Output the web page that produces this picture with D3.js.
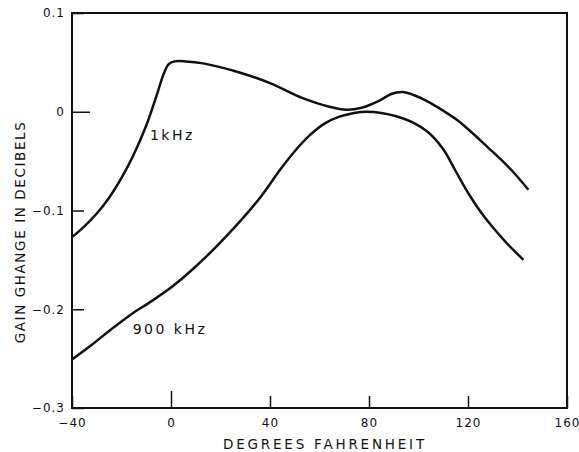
<!DOCTYPE html>
<html lang="en">
<head>
<meta charset="UTF-8">
<title>Gain change vs temperature</title>
<script src="https://d3js.org/d3.v7.min.js"></script>
<style>
  body { margin: 0; background: #fff; }
  text { font-family: "DejaVu Sans", sans-serif; fill: #111; }
</style>
</head>
<body>
<svg id="chart" width="579" height="452"></svg>
<script>
// data
const tempTicks = [-40, 0, 40, 80, 120, 160];
const gainTicks = [0.1, 0, -0.1, -0.2, -0.3];
const gainTickLabels = ["0.1", "0", "\u22120.1", "\u22120.2", "\u22120.3"];
const tempTickLabels = ["\u221240", "0", "40", "80", "120", "160"];

const temp1k = [-40, -35, -30, -25, -20, -15, -10, -6, -3, -1, 1.5, 6, 13, 26, 40, 53, 64, 71, 77, 84, 89, 93.5, 98, 104, 110, 116, 122, 128, 134, 139, 144.4];
const gain1k = [-0.127, -0.116, -0.103, -0.087, -0.067, -0.043, -0.014, 0.015, 0.038, 0.048, 0.051, 0.051, 0.049, 0.041, 0.029, 0.014, 0.005, 0.002, 0.004, 0.011, 0.018, 0.020, 0.017, 0.010, 0.001, -0.009, -0.022, -0.036, -0.050, -0.063, -0.079];

const temp900k = [-40, -32, -24, -16, -8, 0, 9, 22, 36, 44, 50, 56, 62, 68, 74, 79, 85, 91, 97, 104, 110, 115, 120, 125, 130, 136, 142.4];
const gain900k = [-0.251, -0.236, -0.220, -0.205, -0.192, -0.178, -0.159, -0.127, -0.087, -0.059, -0.040, -0.024, -0.012, -0.005, -0.0012, 0.000, -0.0012, -0.0045, -0.010, -0.021, -0.038, -0.060, -0.082, -0.101, -0.117, -0.134, -0.150];

const svg = d3.select("#chart");
const margin = {top: 13, right: 12, bottom: 44, left: 72};
const width = 579 - margin.left - margin.right;
const height = 452 - margin.top - margin.bottom;

const g = svg.append("g").attr("transform", `translate(${margin.left},${margin.top})`);

const x = d3.scaleLinear().domain([-40, 160]).range([0, width]);
const y = d3.scaleLinear().domain([-0.3, 0.1]).range([height, 0]);

// axes, ticks pointing inward
const yAxis = d3.axisLeft(y)
  .tickValues(gainTicks)
  .tickSize(-12)
  .tickPadding(7)
  .tickFormat((d, i) => gainTickLabels[i]);

const xAxis = d3.axisBottom(x)
  .tickValues(tempTicks)
  .tickSize(-12)
  .tickPadding(10)
  .tickFormat((d, i) => tempTickLabels[i]);

const gy = g.append("g").call(yAxis);
const gx = g.append("g").attr("transform", `translate(0,${height})`).call(xAxis);

[gx, gy].forEach(a => {
  a.select(".domain").remove();
  a.selectAll(".tick line").attr("stroke", "#111").attr("stroke-width", 1.5);
  a.selectAll(".tick text")
    .style("font-size", "12px")
    .style("letter-spacing", "1px")
    .attr("fill", "#111");
});

// the zero ticks are a bit longer
gy.selectAll(".tick line").attr("x2", d => d === 0 ? 18 : 12);
gx.selectAll(".tick line").attr("y2", d => d === 0 ? -17 : -12);

// frame
g.append("rect")
  .attr("width", width)
  .attr("height", height)
  .attr("fill", "none")
  .attr("stroke", "#111")
  .attr("stroke-width", 2);

// curves
const line = d3.line()
  .x(d => x(d[0]))
  .y(d => y(d[1]))
  .curve(d3.curveCatmullRom.alpha(0.5));

const series = [
  d3.zip(temp1k, gain1k),
  d3.zip(temp900k, gain900k)
];

g.selectAll(".curve")
  .data(series)
  .enter()
  .append("path")
  .attr("class", "curve")
  .attr("d", line)
  .attr("fill", "none")
  .attr("stroke", "#111")
  .attr("stroke-width", 2.5)
  .attr("stroke-linejoin", "round");

// curve labels
g.append("text")
  .attr("x", x(-8.5))
  .attr("y", y(-0.029))
  .style("font-size", "14px")
  .style("letter-spacing", "2.5px")
  .text("1kHz");

g.append("text")
  .attr("x", x(-15.5))
  .attr("y", y(-0.225))
  .style("font-size", "14px")
  .style("letter-spacing", "2.5px")
  .text("900 kHz");

// axis titles
svg.append("text")
  .attr("x", 325)
  .attr("y", 449)
  .attr("text-anchor", "middle")
  .style("font-size", "13.5px")
  .style("letter-spacing", "2.8px")
  .text("DEGREES FAHRENHEIT");

svg.append("text")
  .attr("transform", "translate(25,232) rotate(-90)")
  .attr("text-anchor", "middle")
  .style("font-size", "13.5px")
  .style("letter-spacing", "1.6px")
  .text("GAIN GHANGE IN DECIBELS");
</script>
</body>
</html>
